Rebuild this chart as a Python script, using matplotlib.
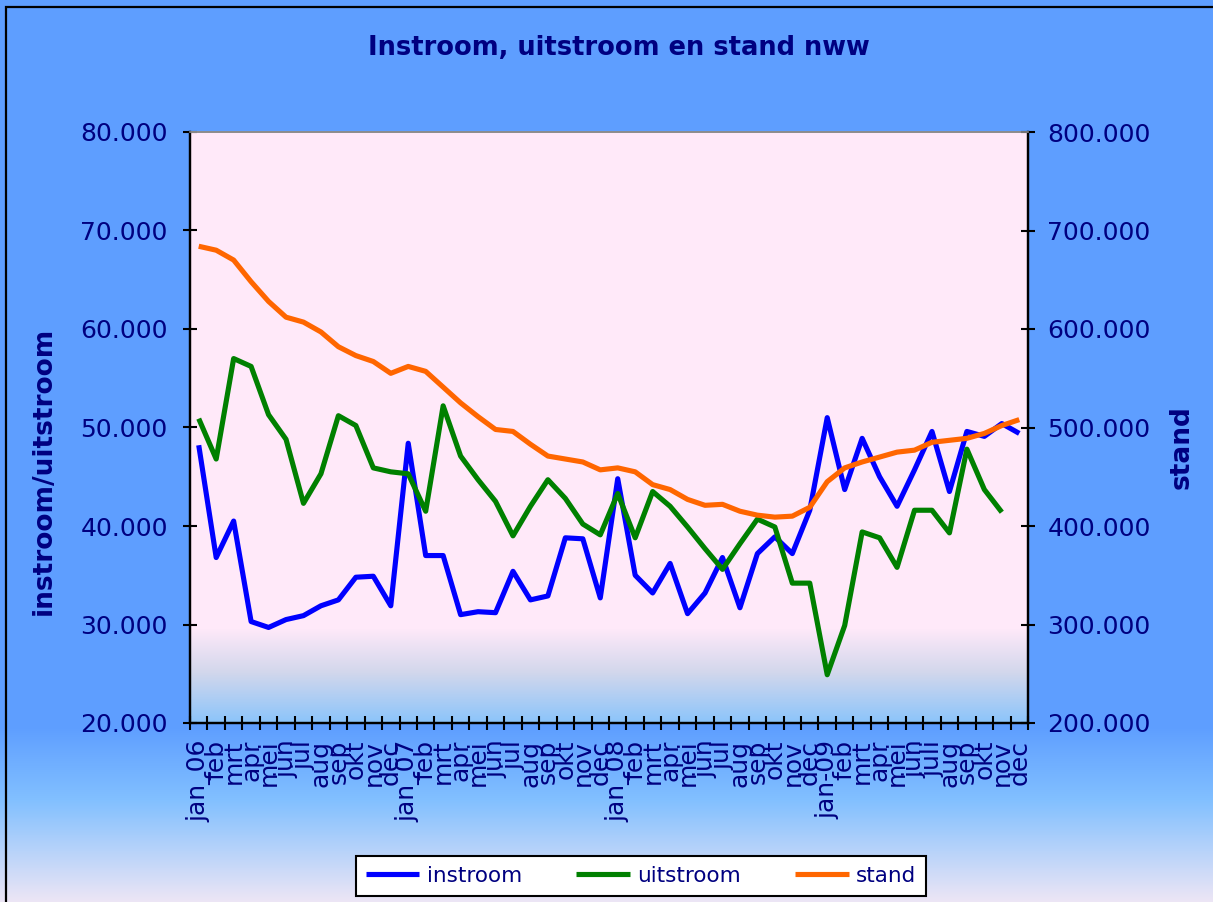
import numpy as np
import matplotlib
matplotlib.use("Agg")
import matplotlib.pyplot as plt
from matplotlib.ticker import FixedLocator, FuncFormatter, NullFormatter
from matplotlib.patches import Rectangle
from matplotlib.lines import Line2D

# ---------------- data ----------------
months = ["jan_06", "feb", "mrt", "apr", "mei", "jun", "jul", "aug", "sep", "okt", "nov", "dec",
          "jan_07", "feb", "mrt", "apr", "mei", "jun", "jul", "aug", "sep", "okt", "nov", "dec",
          "jan_08", "feb", "mrt", "apr", "mei", "jun", "jul", "aug", "sep", "okt", "nov", "dec",
          "jan-09", "feb", "mrt", "apr", "mei", "jun", "juli", "aug", "sep", "okt", "nov", "dec"]

instroom = [48.2, 36.8, 40.5, 30.3, 29.7, 30.5, 30.9, 31.9, 32.5, 34.8, 34.9, 31.9,
            48.4, 37.0, 37.0, 31.0, 31.3, 31.2, 35.4, 32.5, 32.9, 38.8, 38.7, 32.7,
            44.8, 35.0, 33.2, 36.2, 31.1, 33.2, 36.8, 31.7, 37.2, 38.9, 37.2, 41.6,
            51.0, 43.7, 48.9, 45.0, 42.0, 45.7, 49.6, 43.5, 49.6, 49.1, 50.4, 49.4]

uitstroom = [50.9, 46.8, 57.0, 56.2, 51.3, 48.8, 42.3, 45.3, 51.2, 50.2, 45.9, 45.5,
             45.3, 41.5, 52.2, 47.1, 44.7, 42.5, 39.0, 42.0, 44.7, 42.8, 40.2, 39.1,
             43.3, 38.8, 43.5, 42.0, 39.9, 37.7, 35.6, 38.2, 40.7, 39.9, 34.2, 34.2,
             24.9, 29.9, 39.4, 38.8, 35.8, 41.6, 41.6, 39.3, 47.8, 43.7, 41.4, np.nan]

stand = [684, 680, 670, 648, 628, 612, 607, 597, 582, 573, 567, 555,
         562, 557, 541, 525, 511, 498, 496, 483, 471, 468, 465, 457,
         459, 455, 442, 437, 427, 421, 422, 415, 411, 409, 410, 419,
         445, 459, 465, 470, 475, 477, 485, 487, 489, 494, 502, 508]

left_ticks = [20000, 30000, 40000, 50000, 60000, 70000, 80000]
right_ticks = [200000, 300000, 400000, 500000, 600000, 700000, 800000]

NAVY = "#000080"
W, H = 1213, 902
x = np.arange(len(months))

fig = plt.figure(figsize=(W / 100, H / 100), dpi=100)

# ---------------- background gradients ----------------
def col(h):
    h = h.lstrip("#")
    return np.array([int(h[i:i + 2], 16) / 255 for i in (0, 2, 4)])

rows = np.arange(H)
fig_stops_y = [0, 726, 800, 902]
fig_stops_c = [col("5E9EFF"), col("5E9EFF"), col("82C0FF"), col("EEE6F5")]
img = np.zeros((H, W, 3))
for c in range(3):
    img[:, :, c] = np.interp(rows, fig_stops_y, [s[c] for s in fig_stops_c])[:, None]

pt, pb, pl, pr = 132, 723, 190, 1028
plot_stops_y = [pt, 628, 672, pb]
plot_stops_c = [col("FFE9F9"), col("FFE9F9"), col("D2D7EC"), col("8AC4FB")]
prow = np.arange(pt, pb)
for c in range(3):
    img[pt:pb, pl:pr, c] = np.interp(prow, plot_stops_y, [s[c] for s in plot_stops_c])[:, None]

bg = fig.add_axes([0, 0, 1, 1], zorder=-10)
bg.imshow(img, aspect="auto", extent=[0, 1, 0, 1], interpolation="nearest")
bg.set_axis_off()
fig.patches.append(Rectangle((6 / W, -0.05), 1.1, 1 - 7 / H + 0.05, transform=fig.transFigure,
                             fill=False, edgecolor="black", linewidth=1.6))

# ---------------- main axes ----------------
ax = fig.add_axes([pl / W, 1 - pb / H, (pr - pl) / W, (pb - pt) / H])
ax.patch.set_visible(False)
lw = 3.7
l1, = ax.plot(x, instroom and np.array(instroom) * 1000, color="#0000FF", lw=lw,
              solid_joinstyle="round", solid_capstyle="butt", label="instroom")
l2, = ax.plot(x, np.array(uitstroom) * 1000, color="#008000", lw=lw,
              solid_joinstyle="round", solid_capstyle="butt", label="uitstroom")
ax.set_xlim(-0.5, len(months) - 0.5)
ax.set_ylim(20000, 80000)

ax2 = ax.twinx()
ax2.patch.set_visible(False)
l3, = ax2.plot(x, np.array(stand) * 1000, color="#FF6600", lw=lw,
               solid_joinstyle="round", solid_capstyle="butt", label="stand")
ax2.set_ylim(200000, 800000)
ax2.set_xlim(-0.5, len(months) - 0.5)

fmt = FuncFormatter(lambda v, p: f"{int(round(v)):,}".replace(",", "."))

for a in (ax, ax2):
    for s in a.spines.values():
        s.set_linewidth(1.6)
        s.set_color("black")
    a.spines["top"].set_color("#8C8C8C")
    a.spines["top"].set_linewidth(1.2)

ax.yaxis.set_major_locator(FixedLocator(left_ticks))
ax.yaxis.set_major_formatter(fmt)
ax.tick_params(axis="y", direction="inout", length=10, width=1.5, pad=11,
               labelsize=18, labelcolor=NAVY)
ax2.yaxis.set_major_locator(FixedLocator(right_ticks))
ax2.yaxis.set_major_formatter(fmt)
ax2.tick_params(axis="y", direction="inout", length=10, width=1.5, pad=9,
                labelsize=18, labelcolor=NAVY)

# x: boundary ticks (major) and labels on minor ticks
ax.xaxis.set_major_locator(FixedLocator(np.arange(-0.5, len(months), 1.0)))
ax.xaxis.set_major_formatter(NullFormatter())
ax.xaxis.set_minor_locator(FixedLocator(x))
ax.set_xticks(x, labels=months, minor=True)
ax.tick_params(axis="x", which="major", direction="inout", length=10, width=1.5)
ax.tick_params(axis="x", which="minor", length=0, pad=12, labelsize=18,
               labelcolor=NAVY, labelrotation=90)
ax2.tick_params(axis="x", which="both", length=0, labelbottom=False)

# ---------------- texts ----------------
fig.text(619 / W, 1 - 48 / H, "Instroom, uitstroom en stand nww", ha="center", va="center",
         fontsize=18.5, fontweight="bold", color=NAVY)
fig.text(44 / W, 1 - 471 / H, "instroom/uitstroom", rotation=90, ha="center", va="center",
         fontsize=19, fontweight="bold", color=NAVY)
fig.text(1182 / W, 1 - 447 / H, "stand", rotation=90, ha="center", va="center",
         fontsize=19, fontweight="bold", color=NAVY)

leg = fig.legend(handles=[l1, l2, l3], loc="center",
                 bbox_to_anchor=(641 / W, 1 - 876 / H), ncol=3, fontsize=15.5,
                 handlelength=2.5, handletextpad=0.35, columnspacing=2.5,
                 borderpad=0.45, fancybox=False, framealpha=1, facecolor="white",
                 edgecolor="black", labelcolor=NAVY)
leg.get_frame().set_linewidth(1.5)

fig.savefig("out.png", dpi=100)
